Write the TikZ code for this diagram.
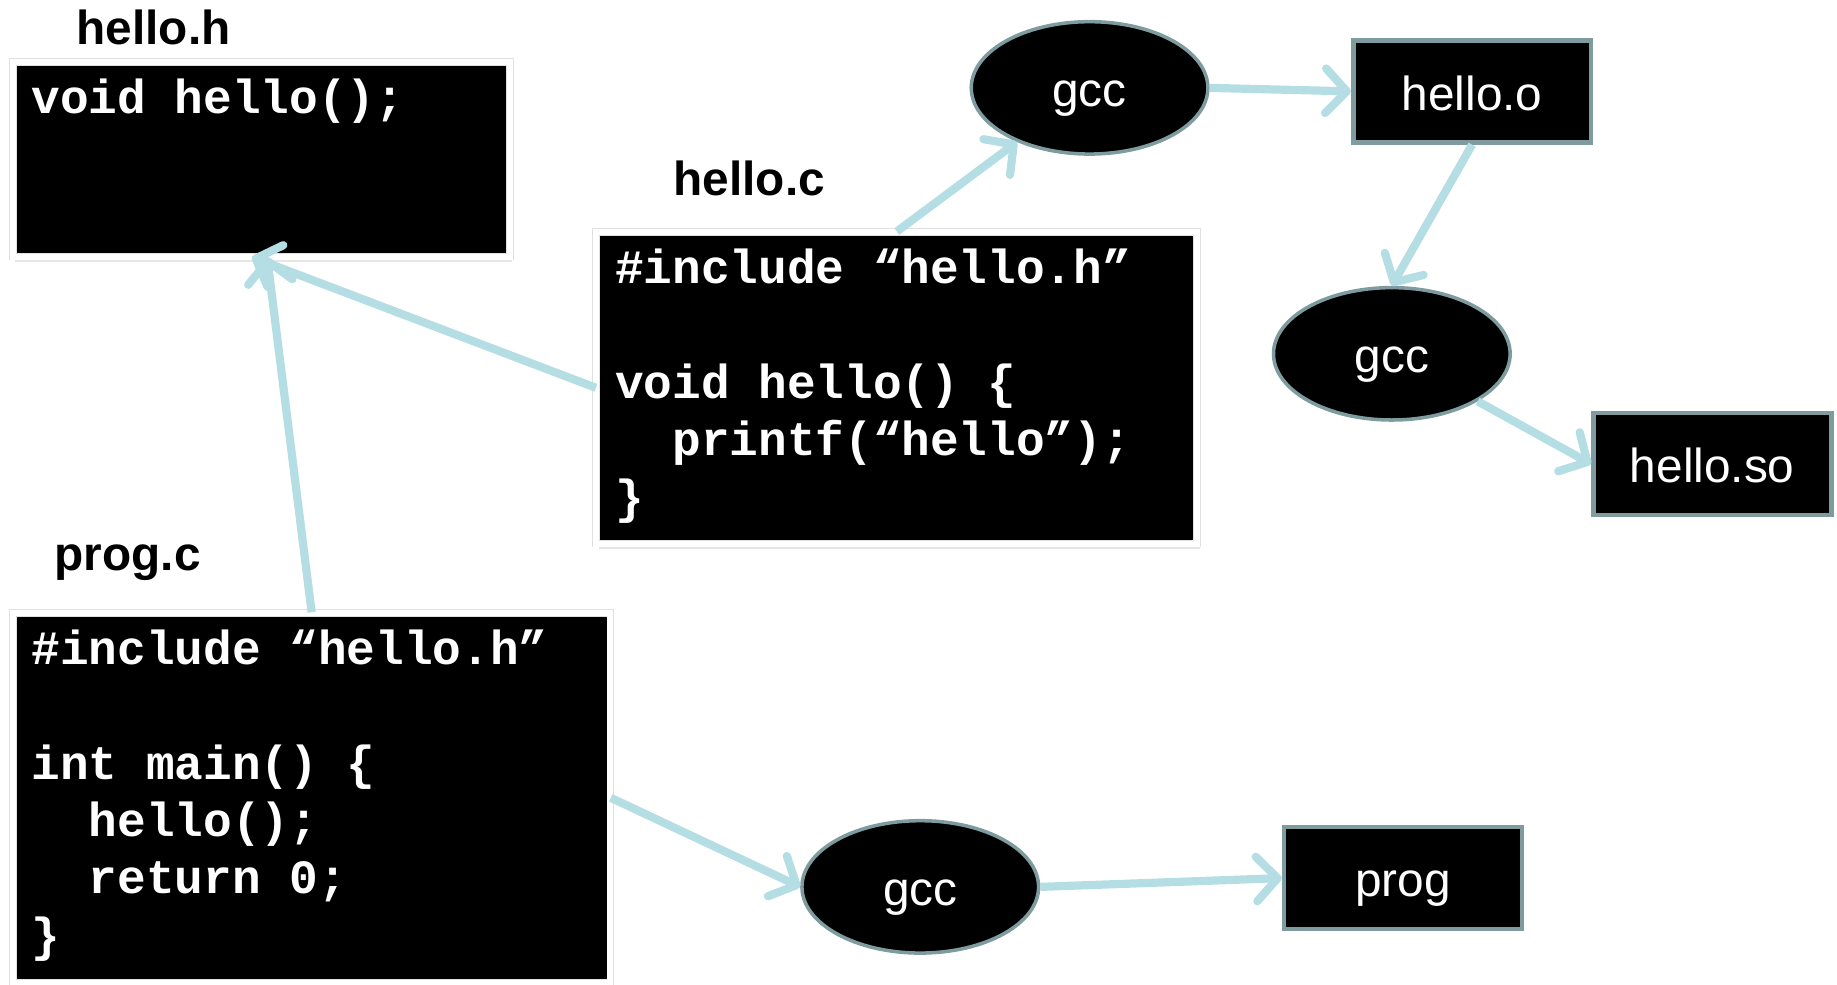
\documentclass[tikz,border=0pt]{standalone}
\usepackage{fontspec}
\setmainfont{Liberation Sans}
\setmonofont{Liberation Mono}
\usetikzlibrary{shapes.geometric,arrows.meta,shadows}

\definecolor{flowblue}{RGB}{180,222,227}
\definecolor{rimgray}{RGB}{126,156,160}

% fixed-size block of source lines, set from the top
\newcommand{\codelines}[3]{\parbox[t][#2][t]{#1}{\raggedright\rule{0pt}{0.36cm}#3}}

\tikzset{
  codebox/.style={rectangle, fill=black, draw=black!12, double=white,
    double distance=0.05cm, line width=0.008cm,
    text=white, font=\fontsize{11.6}{13.94}\selectfont\ttfamily\bfseries,
    inner xsep=0.16cm, inner ysep=0.08cm,
    drop shadow={opacity=0.2, shadow xshift=0.02cm, shadow yshift=-0.05cm}},
  filename/.style={font=\fontsize{11.6}{13.94}\selectfont\bfseries, anchor=base},
  tool/.style={ellipse, fill=black, draw=rimgray, line width=0.03cm,
    minimum width=2.02cm, minimum height=1.13cm, text=white,
    text height=0.40cm, text depth=0.08cm,
    font=\fontsize{11.6}{13.94}\selectfont},
  product/.style={rectangle, fill=black, draw=rimgray, line width=0.04cm,
    minimum width=2.03cm, minimum height=0.87cm, text=white,
    text height=0.40cm, text depth=0.08cm,
    font=\fontsize{11.6}{13.94}\selectfont},
  flow/.style={draw=flowblue, line width=0.07cm,
    -{Straight Barb[length=0.18cm, width=0.38cm, round]}},
}

\begin{document}
\begin{tikzpicture}
  \useasboundingbox (0,0) rectangle (15.68,-8.40);

  % source files
  \node[filename] (hhname) at (1.31,-0.38) {hello.h};
  \node[codebox] (hh) at (2.23,-1.36) {\codelines{3.92cm}{1.50cm}{void hello();}};

  \node[filename] (hcname) at (6.395,-1.67) {hello.c};
  \node[codebox] (hc) at (7.655,-3.31) {\codelines{4.81cm}{2.50cm}{%
    \#include “hello.h”\\
    \mbox{}\\
    void hello() \{\\
    \hphantom{xx}printf(“hello”);\\
    \}}};

  \node[filename] (pcname) at (1.09,-4.87) {prog.c};
  \node[codebox] (pc) at (2.66,-6.81) {\codelines{4.78cm}{3.00cm}{%
    \#include “hello.h”\\
    \mbox{}\\
    int main() \{\\
    \hphantom{xx}hello();\\
    \hphantom{xx}return 0;\\
    \}}};

  % compiler runs and what they produce
  \node[tool] (cc1) at (9.30,-0.75) {gcc};
  \node[product] (ho) at (12.565,-0.78) {hello.o};
  \node[tool] (cc2) at (11.88,-3.02) {gcc};
  \node[product] (so) at (14.615,-3.96) {hello.so};
  \node[tool] (cc3) at (7.855,-7.57) {gcc};
  \node[product] (pg) at (11.975,-7.495) {prog};

  % dependencies and build steps
  \draw[flow] (hc.west) -- ([xshift=-0.08cm]hh.south);
  \draw[flow] (pc.north) -- ([xshift=0.05cm]hh.south);
  \draw[flow] (hc.north) -- (cc1);
  \draw[flow] (cc1.east) -- (ho.west);
  \draw[flow] (ho.south) -- (cc2.north);
  \draw[flow] (cc2) -- (so.west);
  \draw[flow] (pc.east) -- (cc3.west);
  \draw[flow] (cc3.east) -- (pg.west);
\end{tikzpicture}
\end{document}
